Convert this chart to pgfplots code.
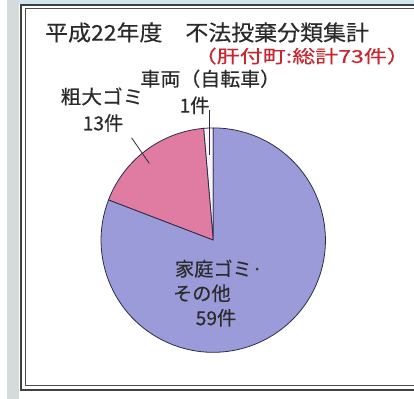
\documentclass[border=0pt]{standalone}
\usepackage{pgfplots}
\pgfplotsset{compat=1.18}
\usepackage{pgfplotstable}
\usepackage{graphicx}
\usepackage{fontspec}
\setmainfont{Noto Sans CJK JP}[FakeBold=0.35]

\definecolor{homepurple}{HTML}{9B9BD9}
\definecolor{bulkypink}{HTML}{E07BA1}
\definecolor{bikewhite}{HTML}{F6F6FA}
\definecolor{edgedark}{HTML}{2C2A48}
\definecolor{subred}{HTML}{C8252E}
\definecolor{textdark}{HTML}{2A2A2A}
\definecolor{paper}{HTML}{D5DADA}
\definecolor{topblue}{HTML}{D3E6EC}

% 平成22年度 不法投棄分類集計 (件)
\pgfplotstableread{
value
1
13
59
}\wastedata

% r = 114, centre (210,161) in picture units
\newcommand{\slice}[3]{%
  \filldraw[fill=#3, draw=edgedark, line width=0.8bp]
    (axis cs:210,161) -- ++(#1:114bp) arc[start angle=#1, end angle=#2, radius=114bp] -- cycle;}

\newcommand{\lbl}{\fontsize{19.5bp}{22bp}\selectfont}

\begin{document}
% angles counter-clockwise from 12 o'clock
\pgfplotstablegetelem{0}{value}\of\wastedata\let\vA\pgfplotsretval
\pgfplotstablegetelem{1}{value}\of\wastedata\let\vB\pgfplotsretval
\pgfplotstablegetelem{2}{value}\of\wastedata\let\vC\pgfplotsretval
\pgfmathsetmacro\vT{\vA+\vB+\vC}
\pgfmathsetmacro\aA{90+360*\vA/\vT}
\pgfmathsetmacro\aB{\aA+360*\vB/\vT}
\begin{tikzpicture}
\begin{axis}[
  at={(0,0)}, anchor=origin,
  x=1bp, y=1bp,
  xmin=0, xmax=414, ymin=0, ymax=405,
  hide axis, clip=false
]
% background and frame
\fill[white] (axis cs:0,0) rectangle (axis cs:414,405);
\fill[paper] (axis cs:0,0) rectangle (axis cs:13,405);
\fill[topblue] (axis cs:13,401) rectangle (axis cs:414,405);
\draw[line width=2bp, black!75] (axis cs:414,400) -- (axis cs:15,400) -- (axis cs:15,9) -- (axis cs:414,9);
\draw[line width=0.9bp, black!70] (axis cs:414,396) -- (axis cs:19,396) -- (axis cs:19,13) -- (axis cs:414,13);

% slices
\slice{90}{\aA}{bikewhite}
\slice{\aA}{\aB}{bulkypink}
\slice{\aB}{450}{homepurple}

% leader lines
\draw[edgedark, line width=0.8bp] (axis cs:206,293) -- (axis cs:206,248);
\draw[edgedark, line width=0.8bp] (axis cs:127,265) -- (axis cs:145,239);

% texts
\node[anchor=west, inner sep=0, text=textdark, font=\fontsize{22bp}{26bp}\selectfont]
  at (axis cs:39,372) {\scalebox{1.06}[1]{平成22年度　不法投棄分類集計}};
\node[inner sep=0, text=subred, font=\fontsize{18bp}{22bp}\selectfont]
  at (axis cs:300,348) {\scalebox{1.3}[1]{（肝付町:総計73件）}};
\node[inner sep=0, text=textdark, font=\lbl] at (axis cs:207,325) {\scalebox{1.04}[1]{車両（自転車）}};
\node[inner sep=0, text=textdark, font=\lbl] at (axis cs:191,298) {1件};
\node[inner sep=0, text=textdark, font=\lbl] at (axis cs:97,307) {\scalebox{1.08}[1]{粗大ゴミ}};
\node[inner sep=0, text=textdark, font=\lbl] at (axis cs:98,280) {13件};
\node[anchor=west, inner sep=0, text=textdark, font=\lbl] at (axis cs:171,132) {家庭ゴミ·};
\node[anchor=west, inner sep=0, text=textdark, font=\lbl] at (axis cs:169,107) {その他};
\node[anchor=west, inner sep=0, text=textdark, font=\lbl] at (axis cs:192,82) {59件};
\end{axis}
\pgfresetboundingbox
\path[use as bounding box] (0,0) rectangle (414bp,405bp);
\end{tikzpicture}
\end{document}
